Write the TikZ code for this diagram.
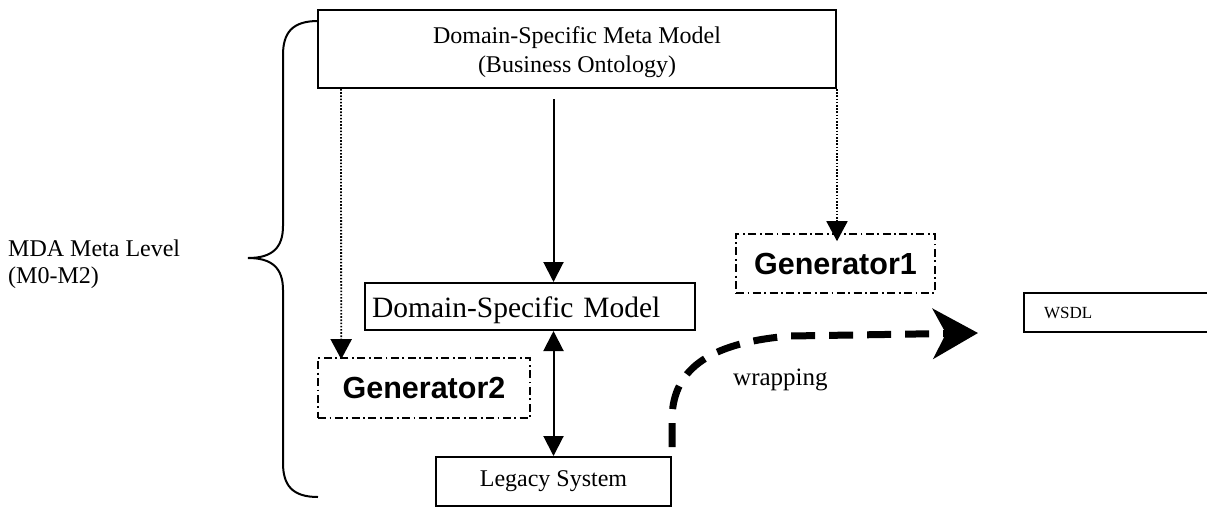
\documentclass[tikz,border=0pt]{standalone}
\usepackage{fontspec}
\setmainfont{Liberation Serif}
\newfontfamily\gensans{Liberation Sans}
\usetikzlibrary{arrows.meta}
\begin{document}
\begin{tikzpicture}[x=1pt,y=-1pt,
  box/.style={draw, line width=2pt, inner sep=0pt},
  genbox/.style={draw, line width=1.6pt, dash pattern=on 8pt off 3.5pt on 1.8pt off 3.5pt, inner sep=0pt, font=\gensans\bfseries\fontsize{30.5}{34}\selectfont},
  arr/.style={line width=2pt, -{Triangle[length=20pt,width=20pt]}},
  dblarr/.style={line width=2pt, {Triangle[length=20pt,width=20pt]}-{Triangle[length=20pt,width=20pt]}},
  dotarr/.style={line width=1.8pt, dash pattern=on 1.6pt off 1.6pt, -{Triangle[length=20pt,width=21pt]}},
  wrap/.style={line width=7pt, dash pattern=on 24pt off 14pt, -{Stealth[length=45pt,width=50pt,inset=13pt]}},
  brace/.style={line width=2pt}
]
\useasboundingbox (0,0) rectangle (1207,507);
\clip (0,0) rectangle (1207,507);

\node[box, minimum width=518pt, minimum height=78pt, align=center, font=\fontsize{24}{29}\selectfont] (meta) at (577,49) {\rule{0pt}{23pt}Domain-Specific Meta Model\\(Business Ontology)};
\node[box, minimum width=330pt, minimum height=47pt, inner xsep=7pt, text width=316pt, align=left, font=\fontsize{29.5}{32}\selectfont] (dsm) at (530,306.5) {\rule{0pt}{29pt}Domain-Specific Model};
\node[genbox, minimum width=212pt, minimum height=60pt] (gen2) at (424,388) {Generator2};
\node[genbox, minimum width=199pt, minimum height=59pt] (gen1) at (835.5,263.5) {Generator1};
\node[box, minimum width=235pt, minimum height=49pt, font=\fontsize{24}{28}\selectfont] (leg) at (553.5,481.5) {Legacy System};
\node[box, anchor=west, minimum width=190pt, minimum height=39pt, inner xsep=20pt, text width=150pt, align=left, font=\fontsize{17}{20}\selectfont] (wsdl) at (1023,312.5) {WSDL};

\node[anchor=north west, inner sep=0pt, align=left, font=\fontsize{24}{27}\selectfont] (mda) at (8,240) {MDA Meta Level\\(M0-M2)};
\node[anchor=base west, inner sep=0pt, font=\fontsize{25}{28}\selectfont] (wraplbl) at (733,385) {wrapping};

% brace
\draw[brace] (318,21) .. controls (292,21) and (283,33) .. (283,55) -- (283,226)
  .. controls (283,248) and (272,258) .. (248,258)
  .. controls (272,258) and (283,268) .. (283,290) -- (283,463)
  .. controls (283,485) and (292,497) .. (318,497);

% connectors
\draw[dotarr, shorten >=-2pt] ([xshift=24pt]meta.south west) -- ([xshift=24pt]gen2.north west);
\draw[dotarr, shorten >=-8pt] (meta.south east) -- (gen1.north -| meta.south east);
\draw[arr, shorten <=10pt] (meta.south -| leg.north) -- (dsm.north -| leg.north);
\draw[dblarr] (dsm.south -| leg.north) -- (leg.north);
\draw[wrap] ([yshift=9pt]leg.north east) -- (672,420) .. controls (672,372) and (705,343) .. (790,336) -- ([xshift=-45pt]wsdl.south west);
\end{tikzpicture}
\end{document}
